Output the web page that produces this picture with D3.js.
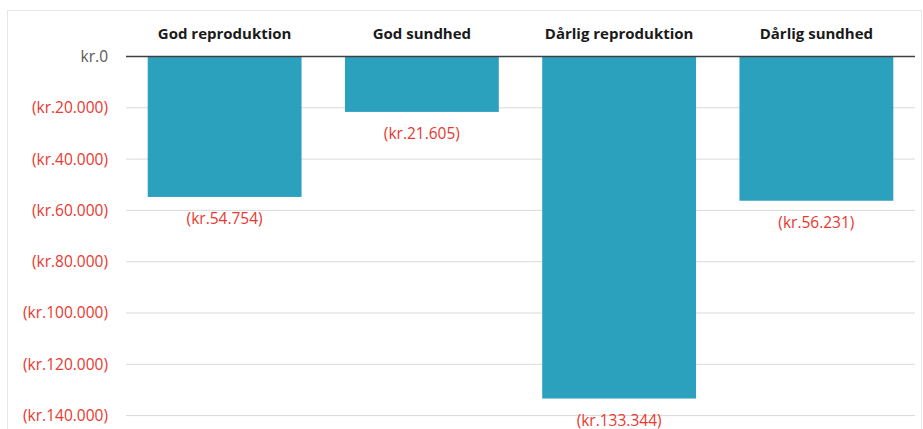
<!DOCTYPE html>
<html><head><meta charset="utf-8">
<script src="https://cdn.jsdelivr.net/npm/d3@7"></script>
<style>body{margin:0;background:#fff}</style>
</head><body><svg id="c" width="923" height="429"></svg>
<script>
const categories = ["God reproduktion","God sundhed","Dårlig reproduktion","Dårlig sundhed"];
const values = [-54754,-21605,-133344,-56231];
const tickValues = [0,-20000,-40000,-60000,-80000,-100000,-120000,-140000];

const fmtNum = v => d3.format(",")(Math.abs(v)).replace(/,/g,".");
const fmt = v => v === 0 ? "kr.0" : "(kr." + fmtNum(v) + ")";

const svg = d3.select("#c");
const font = "'Open Sans', 'Liberation Sans', sans-serif";
svg.append("rect").attr("x",7.5).attr("y",10.5).attr("width",914).attr("height",430)
  .attr("fill","none").attr("stroke","#e6e6e6");

const x = d3.scaleBand().domain(categories).range([126,915]).paddingInner(0.22).paddingOuter(0.11);
const y = d3.scaleLinear().domain([0,-140000]).range([56.5,415.6]);

const grid = svg.append("g");
grid.selectAll("line").data(tickValues.filter(t=>t!==0)).join("line")
  .attr("x1",126).attr("x2",915).attr("y1",d=>y(d)).attr("y2",d=>y(d))
  .attr("stroke","#d9d9d9").attr("stroke-width",1);

const yAxis = d3.axisLeft(y).tickValues(tickValues).tickFormat(fmt).tickSize(0).tickPadding(0);
const ag = svg.append("g").attr("transform","translate(108,0)").call(yAxis);
ag.select(".domain").remove();
ag.selectAll("text").attr("font-family",font).attr("font-size",15.5)
  .attr("fill",d=>d===0?"#595959":"#e8392f");

svg.append("g").selectAll("rect").data(values).join("rect")
  .attr("x",(d,i)=>x(categories[i])).attr("width",x.bandwidth())
  .attr("y",y(0)).attr("height",d=>y(d)-y(0)).attr("fill","#2ca1be");

svg.append("line").attr("x1",126).attr("x2",915).attr("y1",y(0)).attr("y2",y(0))
  .attr("stroke","#404040").attr("stroke-width",1.5);

const xAxis = d3.axisTop(x).tickSize(0).tickPadding(0);
const xg = svg.append("g").attr("transform","translate(0,39)").call(xAxis);
xg.select(".domain").remove();
xg.selectAll("text").attr("font-family",font).attr("font-size",15).attr("font-weight","bold").attr("fill","#1a1a1a");

svg.append("g").selectAll("text").data(values).join("text")
  .attr("x",(d,i)=>x(categories[i])+x.bandwidth()/2).attr("y",d=>y(d)+27)
  .attr("text-anchor","middle").attr("font-family",font).attr("font-size",15.5)
  .attr("fill","#e8392f").text(fmt);
</script></body></html>
